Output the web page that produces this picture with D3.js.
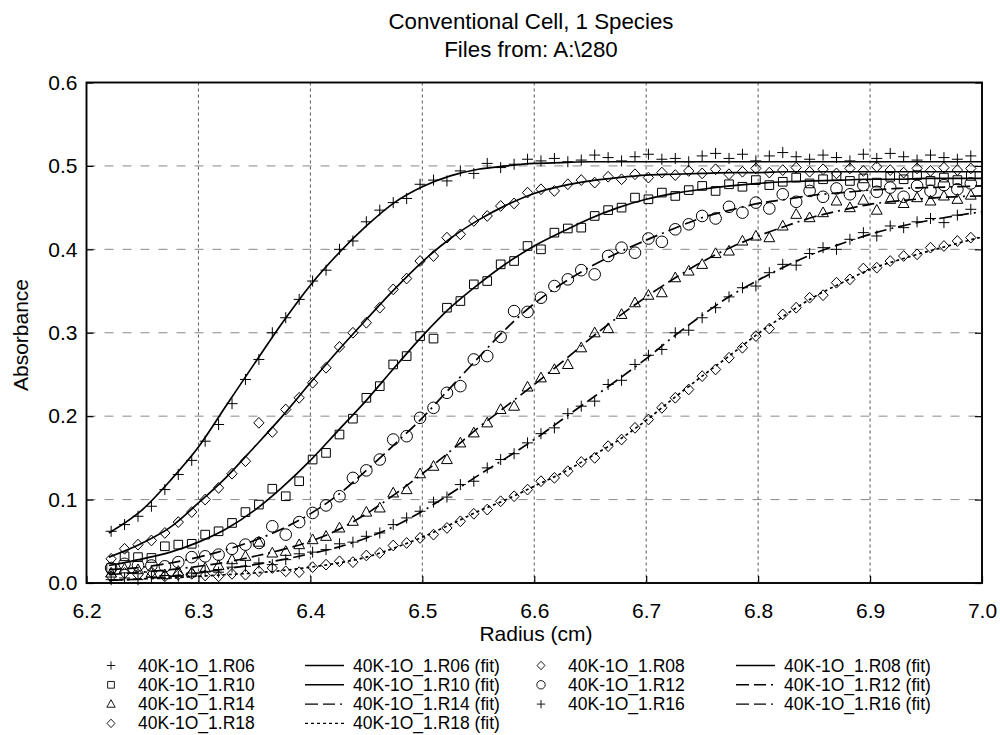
<!DOCTYPE html>
<html>
<head>
<meta charset="utf-8">
<script src="https://cdn.jsdelivr.net/npm/d3@7"></script>
<style>
  body{margin:0;background:#fff;}
  svg{display:block;font-family:"Liberation Sans",Arial,sans-serif;}
</style>
</head>
<body>
<svg id="chart" width="1000" height="735"></svg>
<script>
'use strict';
// scan radii (cm), shared by every data set
const radius = [6.222,6.234,6.246,6.258,6.270,6.282,6.294,6.306,6.318,6.330,6.342,6.354,6.366,6.378,6.390,6.402,
  6.414,6.426,6.438,6.450,6.462,6.474,6.486,6.498,6.510,6.522,6.534,6.546,6.558,6.570,6.582,6.594,
  6.606,6.618,6.630,6.642,6.654,6.666,6.678,6.690,6.702,6.714,6.726,6.738,6.750,6.762,6.774,6.786,
  6.798,6.810,6.822,6.834,6.846,6.858,6.870,6.882,6.894,6.906,6.918,6.930,6.942,6.954,6.966,6.978,6.990];

const absR06 = [.062,.070,.080,.092,.112,.130,.147,.170,.190,.215,.244,.268,.300,.318,.340,.362,
  .375,.400,.410,.433,.447,.456,.461,.478,.483,.482,.494,.491,.503,.498,.502,.508,
  .506,.509,.505,.507,.513,.510,.506,.511,.514,.508,.509,.505,.512,.515,.509,.514,
  .506,.512,.516,.511,.508,.513,.510,.506,.514,.509,.515,.511,.507,.513,.510,.508,.512];
const absR08 = [.029,.041,.046,.051,.060,.073,.085,.100,.114,.131,.146,.192,.181,.208,.222,.240,
  .258,.283,.300,.312,.330,.352,.365,.386,.392,.414,.418,.434,.440,.452,.455,.468,
  .472,.470,.478,.483,.480,.487,.484,.490,.486,.492,.489,.494,.491,.496,.490,.493,
  .497,.492,.495,.498,.493,.496,.491,.497,.494,.499,.495,.492,.497,.494,.498,.495,.497];
const absR10 = [.018,.032,.031,.030,.044,.046,.047,.058,.062,.072,.085,.094,.113,.104,.122,.148,
  .156,.178,.197,.222,.236,.262,.272,.296,.293,.330,.338,.358,.362,.382,.386,.404,
  .400,.420,.425,.426,.440,.447,.450,.462,.460,.468,.464,.471,.476,.470,.478,.475,
  .483,.477,.481,.486,.479,.484,.488,.482,.485,.480,.487,.484,.489,.482,.486,.483,.488];
const absR12 = [.018,.023,.021,.021,.020,.025,.031,.032,.034,.041,.046,.048,.068,.058,.073,.084,
  .093,.104,.126,.135,.148,.172,.176,.198,.210,.228,.236,.268,.272,.295,.326,.325,
  .342,.356,.364,.375,.370,.392,.402,.396,.413,.409,.424,.430,.440,.437,.451,.444,
  .456,.449,.466,.457,.470,.463,.473,.466,.477,.469,.474,.463,.476,.470,.477,.472,.479];
const absR14 = [.012,.017,.016,.012,.010,.014,.013,.018,.021,.028,.032,.049,.036,.038,.046,.052,
  .056,.066,.074,.085,.090,.108,.112,.131,.140,.148,.168,.180,.192,.208,.212,.235,
  .246,.256,.262,.282,.300,.305,.322,.336,.345,.348,.366,.374,.382,.395,.398,.410,
  .416,.414,.428,.442,.438,.444,.458,.450,.459,.447,.460,.455,.462,.458,.464,.460,.465];
const absR16 = [.004,.006,.004,.007,.009,.008,.012,.014,.013,.019,.020,.024,.022,.028,.035,.037,
  .040,.047,.049,.056,.060,.070,.078,.086,.097,.103,.118,.122,.138,.148,.155,.168,
  .179,.186,.203,.212,.218,.238,.243,.262,.273,.280,.300,.303,.318,.330,.343,.354,
  .356,.372,.382,.381,.395,.402,.400,.412,.420,.416,.428,.426,.433,.437,.432,.441,.448];
const absR18 = [.008,.012,.010,.013,.008,.010,.011,.009,.008,.011,.010,.014,.018,.014,.013,.019,
  .022,.026,.025,.033,.036,.045,.048,.054,.058,.066,.074,.083,.088,.098,.104,.112,
  .122,.126,.134,.145,.150,.164,.172,.186,.196,.210,.222,.232,.248,.256,.270,.282,
  .296,.305,.322,.330,.342,.345,.360,.364,.377,.378,.386,.392,.394,.402,.404,.410,.414];

// fitted curves, read at these radii
const fitRadius = [6.22,6.25,6.275,6.30,6.325,6.35,6.375,6.40,6.425,6.45,6.475,6.50,6.525,6.55,6.575,6.60,
  6.625,6.65,6.675,6.70,6.725,6.75,6.775,6.80,6.825,6.85,6.875,6.90,6.925,6.95,6.975,7.00];
const fitR06 = [.060,.088,.123,.163,.213,.263,.312,.357,.395,.428,.456,.475,.488,.496,.500,.503,
  .504,.505,.505,.505,.505,.505,.505,.505,.505,.505,.505,.505,.505,.505,.505,.505];
const fitR08 = [.031,.048,.067,.096,.127,.163,.200,.240,.279,.316,.352,.385,.413,.435,.453,.467,
  .476,.482,.486,.489,.490,.491,.492,.492,.493,.493,.493,.493,.493,.493,.493,.493];
const fitR10 = [.021,.029,.037,.049,.065,.087,.115,.147,.183,.219,.258,.296,.330,.358,.383,.404,
  .421,.437,.450,.460,.467,.472,.476,.479,.481,.482,.483,.484,.484,.485,.485,.485];
const fitR12 = [.016,.019,.024,.031,.040,.051,.065,.083,.106,.135,.166,.198,.234,.270,.305,.335,
  .359,.379,.396,.411,.425,.438,.447,.455,.460,.465,.468,.471,.473,.474,.475,.476];
const fitR14 = [.010,.013,.016,.020,.025,.032,.040,.050,.064,.083,.106,.131,.158,.186,.212,.238,
  .265,.293,.319,.343,.365,.385,.402,.416,.428,.439,.447,.454,.458,.461,.463,.464];
const fitR16 = [.003,.005,.008,.012,.017,.022,.028,.035,.043,.054,.068,.086,.107,.129,.150,.172,
  .196,.220,.244,.269,.296,.321,.344,.363,.380,.395,.407,.418,.427,.434,.440,.445];
const fitR18 = [.003,.005,.006,.008,.010,.012,.015,.019,.024,.031,.042,.055,.070,.086,.100,.116,
  .132,.151,.171,.195,.222,.248,.273,.299,.322,.343,.360,.376,.387,.397,.406,.415];

const xTicks = [6.2,6.3,6.4,6.5,6.6,6.7,6.8,6.9,7.0];
const yTicks = [0,0.1,0.2,0.3,0.4,0.5,0.6];
const titleLines = ['Conventional Cell, 1 Species','Files from: A:\\280'];

const DASH = {solid:null, dashdot:'13,5,12,5,2,5', dot:'3,3'};
const series = [
  {name:'40K-1O_1.R06', data:absR06, fit:fitR06, marker:'plus',     line:'solid'},
  {name:'40K-1O_1.R08', data:absR08, fit:fitR08, marker:'diamond',  line:'solid'},
  {name:'40K-1O_1.R10', data:absR10, fit:fitR10, marker:'square',   line:'solid'},
  {name:'40K-1O_1.R12', data:absR12, fit:fitR12, marker:'circle',   line:'dashdot'},
  {name:'40K-1O_1.R14', data:absR14, fit:fitR14, marker:'triangle', line:'dashdot'},
  {name:'40K-1O_1.R16', data:absR16, fit:fitR16, marker:'plus',     line:'dashdot'},
  {name:'40K-1O_1.R18', data:absR18, fit:fitR18, marker:'diamond',  line:'dot'}
];

const svg = d3.select('#chart');
const box = {left:86.5, right:982, top:82.5, bottom:583};
const x = d3.scaleLinear().domain([6.2,7.0]).range([box.left,box.right]);
const y = d3.scaleLinear().domain([0,0.6]).range([box.bottom,box.top]);

// marker shapes as path strings, s = half size
function markerPath(type,s){
  if(type=='plus') return `M${-s},0H${s}M0,${-s}V${s}`;
  if(type=='square') return `M${-s*0.8},${-s*0.8}h${s*1.6}v${s*1.6}h${-s*1.6}Z`;
  if(type=='triangle') return `M0,${-s*1.05}L${s},${s*0.75}L${-s},${s*0.75}Z`;
  if(type=='diamond') return `M0,${-s}L${s*0.95},0L0,${s}L${-s*0.95},0Z`;
  return d3.arc()({innerRadius:0,outerRadius:s,startAngle:0,endAngle:2*Math.PI});
}

// titles
svg.selectAll('text.title').data(titleLines).enter().append('text')
  .attr('class','title')
  .attr('x',531).attr('y',(d,i)=>29+i*28)
  .attr('text-anchor','middle').attr('font-size',22.3).text(d=>d);

// grid
const grid = svg.append('g');
grid.selectAll('line.vg').data(xTicks.slice(1,-1)).enter().append('line')
  .attr('x1',d=>x(d)).attr('x2',d=>x(d)).attr('y1',box.top).attr('y2',box.bottom)
  .attr('stroke','#444').attr('stroke-width',0.9).attr('stroke-dasharray','3,3');
grid.selectAll('line.hg').data(yTicks.slice(1,-1)).enter().append('line')
  .attr('x1',box.left).attr('x2',box.right).attr('y1',d=>y(d)).attr('y2',d=>y(d))
  .attr('stroke','#8a8a8a').attr('stroke-width',1).attr('stroke-dasharray','9,9');

// axes with inward ticks
const ax = svg.append('g').attr('font-size',21);
ax.append('g').attr('transform',`translate(0,${box.bottom})`)
  .call(d3.axisBottom(x).tickValues(xTicks).tickFormat(d3.format('.1f')).tickSizeInner(-7).tickSizeOuter(0).tickPadding(20));
ax.append('g').attr('transform',`translate(${box.left},0)`)
  .call(d3.axisLeft(y).tickValues(yTicks).tickFormat(d3.format('.1f')).tickSizeInner(-7).tickSizeOuter(0).tickPadding(9));
ax.append('g').attr('transform',`translate(${box.right},0)`)
  .call(d3.axisRight(y).tickValues(yTicks).tickFormat('').tickSizeInner(-7).tickSizeOuter(0));
ax.selectAll('.domain').remove();
ax.selectAll('text').attr('font-family','"Liberation Sans",Arial,sans-serif').attr('font-size',21).attr('fill','#000');
ax.selectAll('line').attr('stroke','#000').attr('stroke-width',1.2);

svg.append('text').attr('x',536).attr('y',641).attr('text-anchor','middle')
  .attr('font-size',21).text('Radius (cm)');
svg.append('text').attr('transform','translate(28,335) rotate(-90)').attr('text-anchor','middle')
  .attr('font-size',21).text('Absorbance');

// fit lines
const line = d3.line().x(d=>x(d[0])).y(d=>y(d[1])).curve(d3.curveMonotoneX);
const plot = svg.append('g');
series.forEach(s=>{
  plot.append('path')
    .datum(fitRadius.map((r,i)=>[r,s.fit[i]]))
    .attr('d',line).attr('fill','none').attr('stroke','#000').attr('stroke-width',1.7)
    .attr('stroke-dasharray',DASH[s.line]);
});

// data markers
series.forEach(s=>{
  const size = s.marker=='circle' ? 5.8 : (s.marker=='plus' ? 5.5 : 5.4);
  plot.append('g').selectAll('path').data(s.data.map((v,i)=>[radius[i],v])).enter().append('path')
    .attr('transform',d=>`translate(${x(d[0])},${y(d[1])})`)
    .attr('d',markerPath(s.marker,size))
    .attr('fill','none').attr('stroke','#000').attr('stroke-width',1);
});

// frame
svg.append('rect').attr('x',box.left).attr('y',box.top)
  .attr('width',box.right-box.left).attr('height',box.bottom-box.top)
  .attr('fill','none').attr('stroke','#000').attr('stroke-width',1.9);

// legend: 4 columns, markers and fit lines alternate
const legendItems = [];
series.forEach((s,i)=>{
  legendItems.push({kind:'marker',s:s,label:s.name});
  legendItems.push({kind:'line',s:s,label:s.name+' (fit)'});
});
const colX = [111,305,541,736];
const legend = svg.append('g').attr('font-size',17.5);
legendItems.forEach((d,i)=>{
  const row = Math.floor(i/4), col = i%4;
  const g = legend.append('g').attr('transform',`translate(${colX[col]},${671.5+row*19.3})`);
  if(d.kind=='marker'){
    g.append('path').attr('transform','translate(0,-6)')
      .attr('d',markerPath(d.s.marker,4.2))
      .attr('fill','none').attr('stroke','#000').attr('stroke-width',0.9);
    g.append('text').attr('x',27).text(d.label);
  } else {
    g.append('line').attr('x1',0).attr('x2',39).attr('y1',-6).attr('y2',-6)
      .attr('stroke','#000').attr('stroke-width',1.4).attr('stroke-dasharray',DASH[d.s.line]);
    g.append('text').attr('x',48).text(d.label);
  }
});
</script>
</body>
</html>
